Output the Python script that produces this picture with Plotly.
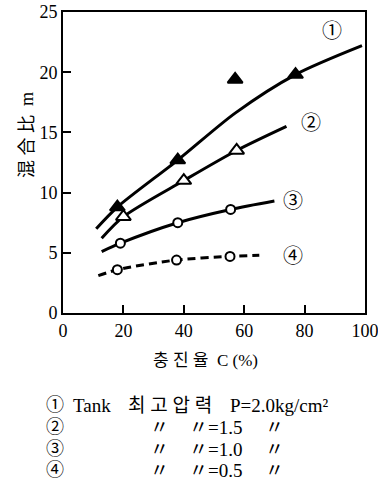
import plotly.graph_objects as go

# ---- data ----
c1_line_x = [11, 18, 38, 57, 77, 99]
c1_line_y = [7.0, 8.8, 12.7, 16.6, 19.8, 22.2]
c1_pts_x = [18, 38, 57, 77]
c1_pts_y = [8.8, 12.7, 19.4, 19.8]

c2_line_x = [12.8, 20, 40, 57.5, 74]
c2_line_y = [6.2, 8.0, 11.0, 13.5, 15.5]
c2_pts_x = [20, 40, 57.5]
c2_pts_y = [8.0, 11.0, 13.5]

c3_line_x = [12.8, 19, 38, 55.5, 70]
c3_line_y = [5.1, 5.8, 7.5, 8.6, 9.3]
c3_pts_x = [19, 38, 55.5]
c3_pts_y = [5.8, 7.5, 8.6]

c4_line_x = [11.7, 18, 37.6, 55.3, 65]
c4_line_y = [3.1, 3.6, 4.4, 4.7, 4.8]
c4_pts_x = [18, 37.6, 55.3]
c4_pts_y = [3.6, 4.4, 4.7]

curve_labels = ["①", "②", "③", "④"]
label_x = [89, 82, 76, 76]
label_y = [23.4, 15.8, 9.3, 4.7]

x_ticks = [0, 20, 40, 60, 80, 100]
y_ticks = [0, 5, 10, 15, 20, 25]

x_title = "충 진 율  C (%)"
y_title = "混 合 比  m"
legend_rows = [
    ["①", "Tank", "최 고 압 력", "P=2.0kg/cm²", ""],
    ["②", "", "〃", "〃=1.5", "〃"],
    ["③", "", "〃", "〃=1.0", "〃"],
    ["④", "", "〃", "〃=0.5", "〃"],
]

FONT = "Liberation Serif, Noto Sans CJK KR, serif"
W, H = 378, 502
L, R, T, B = 63, 13, 12, 189
pw, ph = W - L - R, H - T - B

def px(x):
    return (x - L) / pw

def py(y):
    return (H - B - y) / ph

fig = go.Figure()

def add_curve(lx, ly, mx, my, symbol, fill, dash="solid", msize=9):
    fig.add_trace(go.Scatter(x=lx, y=ly, mode="lines",
                             line=dict(color="black", width=3, shape="spline", smoothing=0.8, dash=dash),
                             showlegend=False, hoverinfo="skip"))
    fig.add_trace(go.Scatter(x=mx, y=my, mode="markers",
                             marker=dict(symbol=symbol, size=msize, color=fill,
                                         line=dict(color="black", width=2)),
                             showlegend=False, hoverinfo="skip"))

add_curve(c1_line_x, c1_line_y, c1_pts_x, c1_pts_y, "triangle-up", "black", msize=13)
add_curve(c2_line_x, c2_line_y, c2_pts_x, c2_pts_y, "triangle-up", "white", msize=13)
add_curve(c3_line_x, c3_line_y, c3_pts_x, c3_pts_y, "circle", "white", msize=9)
add_curve(c4_line_x, c4_line_y, c4_pts_x, c4_pts_y, "circle", "white", dash="8px,5px", msize=9)

for t, x, y in zip(curve_labels, label_x, label_y):
    fig.add_annotation(x=x, y=y, text=t, showarrow=False, font=dict(family=FONT, size=20, color="black"))

fig.add_annotation(xref="paper", yref="paper", x=px(205), y=py(372), text=x_title, showarrow=False,
                   font=dict(family=FONT, size=17, color="black"))
fig.add_annotation(xref="paper", yref="paper", x=px(15), y=py(135), text=y_title, showarrow=False,
                   textangle=-90, font=dict(family=FONT, size=18, color="black"))

row_y = [405, 427, 449, 470]
col_x = [44, 71, 126, 228, 263]
for row, yy in zip(legend_rows, row_y):
    for j, (text, xx) in enumerate(zip(row, col_x)):
        if not text:
            continue
        if row[1] == "" and j == 2:
            xx = 148
        if row[1] == "" and j == 3:
            xx = 187
        size = 18 if j == 0 else 19
        fig.add_annotation(xref="paper", yref="paper", x=px(xx), y=py(yy), xanchor="left", yanchor="middle",
                           text=text, showarrow=False, font=dict(family=FONT, size=size, color="black"))

axis_common = dict(showline=True, linecolor="black", linewidth=2, mirror=True, ticks="inside",
                   ticklen=8, tickwidth=2, tickcolor="black", showgrid=False, zeroline=False,
                   automargin=False, ticklabeloverflow="allow",
                   tickfont=dict(family=FONT, size=18, color="black"))
fig.update_xaxes(range=[0, 100], tickvals=x_ticks, **axis_common)
fig.update_yaxes(range=[0, 25], tickvals=y_ticks, **axis_common)

fig.update_layout(width=W, height=H, margin=dict(l=L, r=R, t=T, b=B, autoexpand=False),
                  paper_bgcolor="white", plot_bgcolor="white", showlegend=False)

fig.write_html("out.html")
